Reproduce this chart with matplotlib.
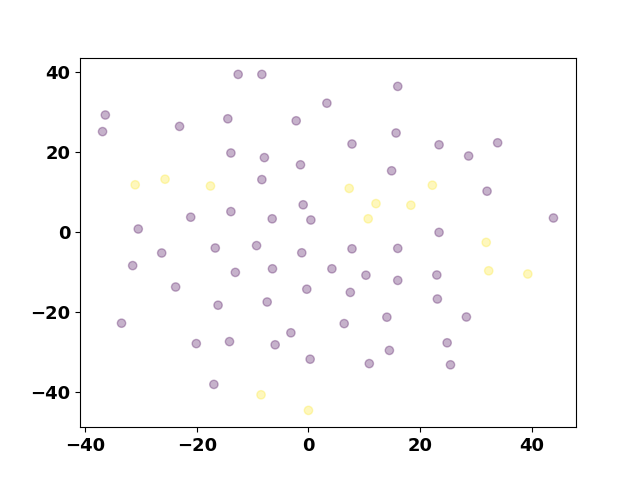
import numpy as np
import matplotlib
matplotlib.use("Agg")
import matplotlib.pyplot as plt
from matplotlib.ticker import MultipleLocator

purple_x = [-12.6, -8.35, 3.3, -36.4, -36.9, -23.1, -14.45, -2.2, -13.9, -7.9,
            -1.43, -8.35, -0.95, -21.1, -13.9, -6.5, 0.43, -30.5,
            -26.3, -16.7, -9.3, -1.2, -31.5, -13.1, -6.45, 4.2, -23.8, -0.3,
            -16.2, -7.4, -33.5, -3.15, -20.1, -14.15, -5.97, 0.3, -16.95,
            16.0, 15.7, 7.8, 23.4, 33.9, 28.7, 14.9, 32.0, 43.9, 23.4, 7.8, 16.0,
            10.3, 16.0, 23.0, 7.5, 23.1, 6.4, 14.05, 28.3, 24.85, 14.5, 10.9, 25.45]
purple_y = [39.4, 39.4, 32.2, 29.25, 25.1, 26.4, 28.3, 27.8, 19.75, 18.6,
            16.8, 13.1, 6.8, 3.7, 5.1, 3.3, 3.0, 0.75,
            -5.25, -4.0, -3.4, -5.2, -8.4, -10.1, -9.2, -9.2, -13.75, -14.3,
            -18.3, -17.5, -22.8, -25.2, -27.9, -27.4, -28.2, -31.8, -38.1,
            36.4, 24.75, 22.0, 21.8, 22.3, 19.0, 15.3, 10.2, 3.5, -0.1, -4.2, -4.1,
            -10.8, -12.1, -10.75, -15.1, -16.75, -22.9, -21.3, -21.25, -27.7, -29.6, -32.9, -33.2]
yellow_x = [-31.05, -25.7, -17.56, 7.3, 22.2, 12.1, 18.35, 10.7, 31.85, 32.3, 39.3, -8.5, 0.0]
yellow_y = [11.8, 13.2, 11.5, 10.9, 11.7, 7.1, 6.7, 3.3, -2.6, -9.7, -10.5, -40.7, -44.6]

x = np.array(purple_x + yellow_x)
y = np.array(purple_y + yellow_y)
labels = np.array([0] * len(purple_x) + [1] * len(yellow_x))

plt.rcParams['font.family'] = ['DejaVu Sans']
plt.rcParams['font.weight'] = 'bold'
plt.rcParams['xtick.labelsize'] = 13
plt.rcParams['ytick.labelsize'] = 13

fig, ax = plt.subplots(figsize=(6.4, 4.8), dpi=100)
ax.scatter(x, y, c=labels, cmap="viridis", alpha=0.3)
ax.xaxis.set_major_locator(MultipleLocator(20))
ax.yaxis.set_major_locator(MultipleLocator(20))
fig.savefig("out.png", dpi=100)
